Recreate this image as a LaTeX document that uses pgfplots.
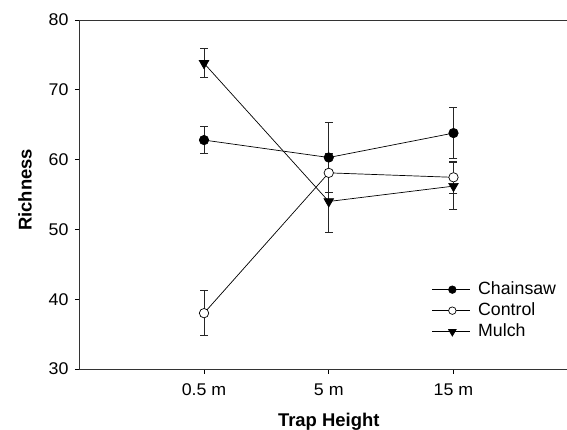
\documentclass[border=0pt]{standalone}
\usepackage{fontspec}
\setmainfont{Liberation Sans}
\usepackage{pgfplots}
\pgfplotsset{compat=1.18}
\begin{document}
\begin{tikzpicture}
\begin{axis}[
  scale only axis, width=487.7bp, height=349bp,
  xmin=-1, xmax=2.91, ymin=30, ymax=80,
  axis x line*=box, axis y line*=left,
  xtick={0,1,2}, xticklabels={0.5 m, 5 m, 15 m},
  ytick={30,40,50,60,70,80},
  xtick pos=bottom, ytick pos=left, tick align=outside,
  major tick length=4.5bp,
  tick style={black, line width=0.8pt},
  axis line style={black!80, line width=0.8pt},
  /pgf/number format/assume math mode=true,
  ticklabel style={font=\fontsize{17}{20}\selectfont, xscale=1.05},
  xticklabel style={yshift=-7bp},
  yticklabel style={xshift=-2.5bp},
  xlabel={Trap Height}, ylabel={Richness},
  label style={font=\bfseries\fontsize{18.5}{22}\selectfont},
  xlabel style={at={(axis description cs:0.5115,0)}, anchor=base, yshift=-57.7bp},
  ylabel style={at={(axis description cs:-0.1113,0.513)}, anchor=center},
  legend style={draw=none, fill=none, inner sep=0pt, at={(axis cs:1.826,42.9)}, anchor=north west,
    font=\fontsize{17.8}{20}\selectfont, nodes={inner sep=2bp, text height=13bp, text depth=4bp}, row sep=0bp, column sep=5.5bp},
  legend cell align=left,
  legend image code/.code={\draw[mark repeat=2,mark phase=2,#1, every mark/.append style={scale=0.8}] plot coordinates {(0bp,0bp)(20bp,0bp)(38bp,0bp)};},
  error bars/y dir=both, error bars/y explicit,
  error bars/error mark=-,
  error bars/error mark options={rotate=90, mark size=4bp, black!85, line width=0.9pt},
  error bars/error bar style={black!85, line width=0.9pt},
]
\addplot[black, line width=0.7pt, mark=*, mark size=4.7bp, mark options={fill=black, solid}]
  coordinates {(0,62.8) +- (0,1.9) (1,60.3) +- (0,5.0) (2,63.8) +- (0,3.65)};
\addlegendentry{Chainsaw}
\addplot[black, line width=0.7pt, mark=*, mark size=4.7bp, mark options={fill=white, solid}]
  coordinates {(0,38.0) +- (0,3.2) (1,58.1) +- (0,2.8) (2,57.46) +- (0,2.24)};
\addlegendentry{Control}
\addplot[black, line width=0.7pt, mark=triangle*, mark size=5.5bp, mark options={fill=black, solid, rotate=180}]
  coordinates {(0,73.8) +- (0,2.1) (1,54.0) +- (0,4.5) (2,56.2) +- (0,3.34)};
\addlegendentry{Mulch}
\end{axis}
\pgfresetboundingbox
\path ([shift={(-79.3bp,-61bp)}]current axis.south west) rectangle ++(567bp,430bp);
\end{tikzpicture}
\end{document}
